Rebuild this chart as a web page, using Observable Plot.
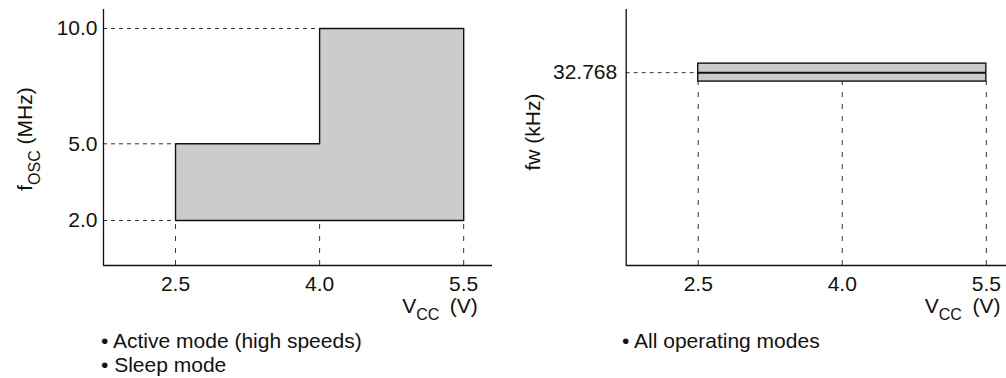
<!DOCTYPE html>
<html>
<head>
<meta charset="utf-8">
<script src="https://cdn.jsdelivr.net/npm/d3@7"></script>
<script src="https://cdn.jsdelivr.net/npm/@observablehq/plot@0.6"></script>
<style>
  html, body { margin: 0; padding: 0; background: #fff; }
  body { width: 1006px; height: 378px; overflow: hidden; font-family: "Liberation Sans", Arial, Helvetica, sans-serif; color: #111; }
  #wrap { display: flex; }
  .col { width: 503px; position: relative; }
  .col svg { display: block; }
  .notes { font-size: 21px; line-height: 24px; margin-top: -1px; white-space: nowrap; }
  #notesL { padding-left: 101px; }
  #notesR { padding-left: 119px; }
</style>
</head>
<body>
<div id="wrap">
  <div class="col" id="left"><div id="plotL"></div><div class="notes" id="notesL"></div></div>
  <div class="col" id="right"><div id="plotR"></div><div class="notes" id="notesR"></div></div>
</div>
<script>
// ---- data ----
const vccTicks = [2.5, 4.0, 5.5];               // V_CC (V)
const fOscTicks = [2.0, 5.0, 10.0];             // f_OSC (MHz)
const regionVcc = [2.5, 4.0, 5.5];              // step breakpoints
const regionFmax = [5.0, 10.0, 10.0];           // upper f_OSC from each breakpoint
const regionFmin = 2.0;
const fwValue = 32.768;                          // kHz
const fwBand = [31.25, 34.3];                    // band drawn around fw
const notesLeft = ["Active mode (high speeds)", "Sleep mode"];
const notesRight = ["All operating modes"];

const FONT = '"Liberation Sans", Arial, Helvetica, sans-serif';
const xDomainL = [1.75, 5.8];
const xDomainR = [1.75, 5.71];
// the left frequency axis is schematic (not linear): warp f_OSC into display units
const fBreaks = [0.25, 2, 5, 10, 10.8];
const fUnits = [0, 45, 121.7, 237, 256];
const warp = d3.scaleLinear().domain(fBreaks).range(fUnits);
const yDomainR = [0, 43.5];
const DASH = "4,4";
const DASHV = "5,7";
const fmt = d3.format(".1f");
const H = 330, MB = 65;

// ---- left chart ----
const region = regionVcc.map((v, i) => ({v, top: warp(regionFmax[i])}));
const outline = [{v: regionVcc[0], f: regionFmin}];
for (let i = 0; i < regionVcc.length - 1; i++) {
  outline.push({v: regionVcc[i], f: regionFmax[i]});
  outline.push({v: regionVcc[i + 1], f: regionFmax[i]});
}
outline.push({v: regionVcc[regionVcc.length - 1], f: regionFmin});
outline.push({v: regionVcc[0], f: regionFmin});
const firstV = f => {
  for (let i = 0; i < regionVcc.length; i++) if (regionFmax[i] >= f) return regionVcc[i];
  return regionVcc[0];
};

const plotL = Plot.plot({
  width: 503, height: H,
  marginLeft: 103, marginRight: 11, marginTop: 9, marginBottom: MB,
  style: {fontSize: "21px", fontFamily: FONT, color: "#111", background: "white"},
  x: {domain: xDomainL, ticks: vccTicks, tickFormat: fmt, tickSize: 0, tickPadding: 11, label: null},
  y: {domain: d3.extent(fUnits), ticks: fOscTicks.map(warp), tickFormat: d => fmt(warp.invert(d)), tickSize: 0, tickPadding: 6, label: null},
  marks: [
    Plot.ruleY(fOscTicks, {y: d => warp(d), x1: xDomainL[0], x2: d => firstV(d), stroke: "#333", strokeWidth: 1, strokeDasharray: DASH}),
    Plot.ruleX(vccTicks, {x: d => d, y1: warp(fBreaks[0]), y2: warp(regionFmin), stroke: "#333", strokeWidth: 1, strokeDasharray: DASHV}),
    Plot.areaY(region, {x: "v", y1: warp(regionFmin), y2: "top", curve: "step-after", fill: "#cccccc"}),
    Plot.line(outline, {x: "v", y: d => warp(d.f), stroke: "#111", strokeWidth: 1.4}),
    Plot.ruleX([xDomainL[0]], {stroke: "#111", strokeWidth: 1.3}),
    Plot.ruleY([warp(fBreaks[0])], {stroke: "#111", strokeWidth: 1.3})
  ]
});
document.getElementById("plotL").append(plotL);

// ---- right chart ----
const plotR = Plot.plot({
  width: 503, height: H,
  marginLeft: 122.7, marginRight: 0, marginTop: 9, marginBottom: MB,
  style: {fontSize: "21px", fontFamily: FONT, color: "#111", background: "white"},
  x: {domain: xDomainR, ticks: vccTicks, tickFormat: fmt, tickSize: 0, tickPadding: 11, label: null},
  y: {domain: yDomainR, ticks: [fwValue], tickFormat: d => d3.format(".3f")(d), tickSize: 0, tickPadding: 9, label: null},
  marks: [
    Plot.ruleY([fwValue], {y: d => d, x1: xDomainR[0], x2: vccTicks[0], stroke: "#333", strokeWidth: 1, strokeDasharray: DASH}),
    Plot.ruleX(vccTicks, {x: d => d, y1: yDomainR[0], y2: fwBand[0], stroke: "#333", strokeWidth: 1, strokeDasharray: DASHV}),
    Plot.rect([{x1: vccTicks[0], x2: vccTicks[vccTicks.length - 1], y1: fwBand[0], y2: fwBand[1]}],
      {x1: "x1", x2: "x2", y1: "y1", y2: "y2", fill: "#cccccc", stroke: "#111", strokeWidth: 1.4}),
    Plot.ruleY([fwValue], {y: d => d, x1: vccTicks[0], x2: vccTicks[vccTicks.length - 1], stroke: "#111", strokeWidth: 2}),
    Plot.ruleX([xDomainR[0]], {stroke: "#111", strokeWidth: 1.3}),
    Plot.ruleY([yDomainR[0]], {stroke: "#111", strokeWidth: 1.3})
  ]
});
document.getElementById("plotR").append(plotR);

// ---- axis labels with subscripts ----
function xLabel(plot, right) {
  const svg = d3.select(plot);
  const xs = plot.scale("x");
  const t = svg.append("text")
    .attr("x", xs.apply(right) + 14.6).attr("y", 313)
    .attr("text-anchor", "end").attr("fill", "#111")
    .attr("font-family", FONT).attr("font-size", 21);
  t.append("tspan").text("V");
  t.append("tspan").attr("font-size", 16).attr("dy", 7).text("CC");
  t.append("tspan").attr("dy", -7).text("\u2002(V)");
}
function yLabel(plot, cx, cy, main, sub, rest) {
  const svg = d3.select(plot);
  const t = svg.append("text")
    .attr("transform", `translate(${cx},${cy}) rotate(-90)`)
    .attr("text-anchor", "middle").attr("fill", "#111")
    .attr("font-family", FONT).attr("font-size", 21);
  t.append("tspan").text(main);
  if (sub) {
    t.append("tspan").attr("font-size", 16).attr("dy", 8).text(sub);
    t.append("tspan").attr("dy", -8).text(rest);
  } else {
    t.append("tspan").text(rest);
  }
}
xLabel(plotL, vccTicks[vccTicks.length - 1]);
xLabel(plotR, vccTicks[vccTicks.length - 1]);
yLabel(plotL, 32, 139, "f", "OSC", " (MHz)");
yLabel(plotR, 37, 132, "fw", null, " (kHz)");

// ---- notes ----
function notes(id, arr) {
  const el = document.getElementById(id);
  arr.forEach(s => { const d = document.createElement("div"); d.textContent = "\u2022 " + s; el.append(d); });
}
notes("notesL", notesLeft);
notes("notesR", notesRight);
</script>
</body>
</html>
